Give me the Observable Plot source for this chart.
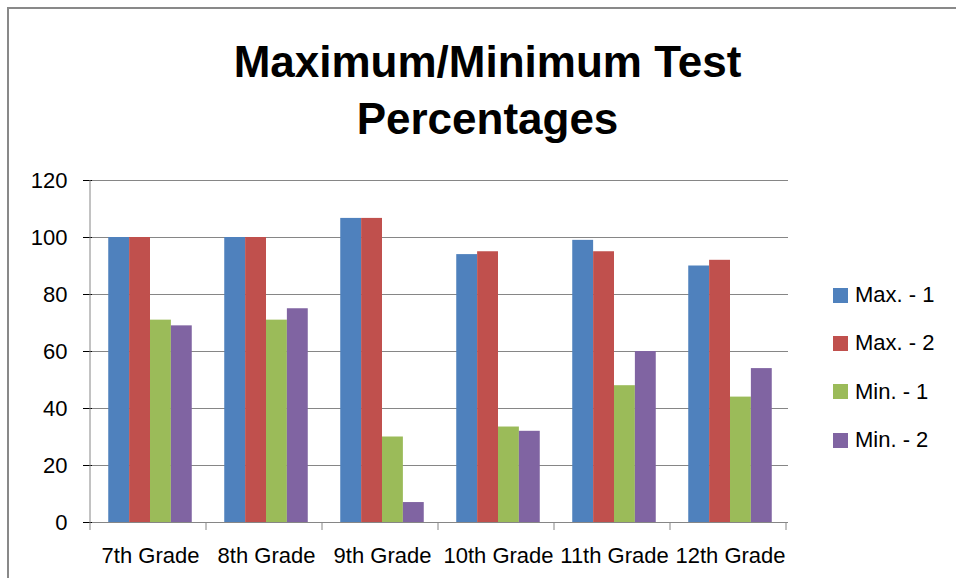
<!DOCTYPE html>
<html><head><meta charset="utf-8">
<script src="https://cdn.jsdelivr.net/npm/d3@7"></script>
<script src="https://cdn.jsdelivr.net/npm/@observablehq/plot@0.6"></script>
<style>
html,body{margin:0;padding:0;background:#fff;overflow:hidden}
#wrap{position:relative;width:956px;height:578px;overflow:hidden;font-family:"Liberation Sans",Arial,sans-serif;color:#000}
#border{position:absolute;left:7px;top:7px;width:1000px;height:650px;border-left:2px solid #898989;border-top:2px solid #898989}
#title{position:absolute;left:0;top:33px;width:975px;text-align:center;font-size:44px;font-weight:bold;line-height:57px}
#chart{position:absolute;left:0;top:160px}
#legend{position:absolute;left:833px;top:271px}
.row{display:flex;align-items:center;height:48.3px;font-size:22px;white-space:nowrap}
.sw{width:15px;height:15px;margin-right:7px}
#chart g[aria-label="y-axis tick"]{stroke:#868686}
</style>
</head><body>
<div id="wrap">
  <div id="border"></div>
  <div id="title">Maximum/Minimum Test<br>Percentages</div>
  <div id="chart"></div>
  <div id="legend"></div>
</div>
<script>
const grades = ["7th Grade","8th Grade","9th Grade","10th Grade","11th Grade","12th Grade"];
const series = ["Max. - 1","Max. - 2","Min. - 1","Min. - 2"];
const max1 = [100, 100, 106.7, 94, 99, 90];
const max2 = [100, 100, 106.7, 95, 95, 92];
const min1 = [71, 71, 30, 33.5, 48, 44];
const min2 = [69, 75, 7, 32, 60, 54];
const yTicks = [0, 20, 40, 60, 80, 100, 120];
const colors = ["#4F81BD", "#C0504D", "#9BBB59", "#8064A2"];

const values = [max1, max2, min1, min2];
const rows = grades.flatMap((g, i) => series.map((s, j) => ({grade: g, series: s, value: values[j][i]})));

const plot = Plot.plot({
  width: 956, height: 418,
  marginTop: 20, marginBottom: 56, marginLeft: 90, marginRight: 166,
  style: {fontFamily: '"Liberation Sans", Arial, sans-serif', fontSize: "22px", color: "#000", background: "transparent", overflow: "visible"},
  fx: {domain: grades, padding: 0, label: null, axis: "bottom", tickSize: 0, tickPadding: 25},
  x: {domain: series, axis: null, paddingInner: 0, paddingOuter: 0.778, round: false},
  y: {domain: [0, 120], ticks: yTicks, tickSize: 9, tickPadding: 16, label: null},
  color: {domain: series, range: colors},
  marks: [
    Plot.gridY(yTicks, {stroke: "#868686", strokeOpacity: 1}),
    Plot.barY(rows, {fx: "grade", x: "series", y: "value", fill: "series"})
  ]
});
document.getElementById("chart").appendChild(plot);

// axis line and category boundary ticks, derived from the scales
const fx = plot.scale("fx"), y = plot.scale("y");
const x0 = fx.range[0];
const step = fx.step || (fx.range[1] - fx.range[0]) / grades.length;
const y0 = y.apply(0), yTop = y.apply(120);
const g = d3.select(plot).append("g").attr("stroke", "#868686").attr("stroke-width", 1);
g.append("line").attr("x1", x0).attr("x2", x0).attr("y1", yTop).attr("y2", y0 + 8);
for (let i = 1; i <= grades.length; i++) {
  const xi = x0 + i * step;
  g.append("line").attr("x1", xi).attr("x2", xi).attr("y1", y0).attr("y2", y0 + 8);
}

const legend = d3.select("#legend");
series.forEach((s, i) => {
  const r = legend.append("div").attr("class", "row");
  r.append("div").attr("class", "sw").style("background", colors[i]);
  r.append("span").text(s);
});
</script>
</body></html>
